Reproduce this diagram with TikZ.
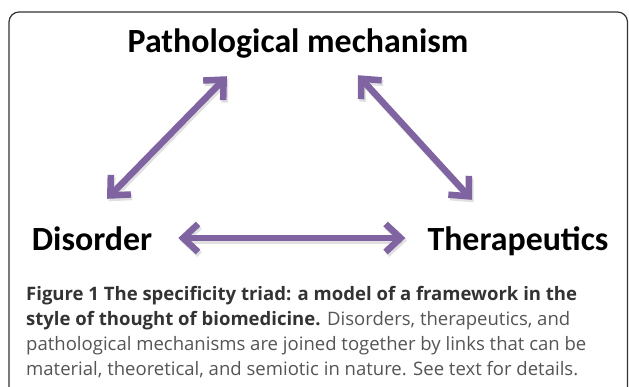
\documentclass[tikz,border=0pt]{standalone}
\usepackage{fontspec}
\setmainfont{Carlito}
\newfontfamily\capfont{Open Sans}
\usetikzlibrary{arrows.meta}
\definecolor{triadpurple}{HTML}{8064A2}
\definecolor{framegray}{HTML}{333333}
\definecolor{capdark}{HTML}{333333}
\definecolor{capgray}{HTML}{555555}

\begin{document}
\begin{tikzpicture}[x=1bp,y=-1bp]
        \tikzstyle{every node} = [inner sep=0pt]
        \tikzstyle{corner} = [font=\fontsize{34}{40}\selectfont\bfseries, text height=24bp, text depth=6bp]
        \tikzstyle{link} = [triadpurple, line width=6.5bp, line cap=round,
                {Straight Barb[length=15bp,width=28bp]}-{Straight Barb[length=15bp,width=28bp]}]
        \tikzstyle{linkshadow} = [link, black, opacity=0.12, transform canvas={shift={(1.5bp,-2.5bp)}}]
        \useasboundingbox (0,0) rectangle (629,386);
        \draw[framegray, line width=1.2bp, rounded corners=10bp]
                (9,400) -- (9,12) -- (627.5,12) -- (627.5,400);
        \node[corner, anchor=base] (pathmech) at (298,52) {Pathological mechanism};
        \node[corner, anchor=base] (disorder) at (92,250) {Disorder};
        \node[corner, anchor=base] (therapy) at (518,250) {Therapeutics};
        \foreach \style in {linkshadow, link} {
            \draw[\style] ([shift={(15,-27)}]disorder.north) -- ([shift={(-71,18)}]pathmech.south);
            \draw[\style] ([shift={(60,17)}]pathmech.south) -- ([shift={(-46,-26)}]therapy.north);
            \draw[\style] ([shift={(26,-12)}]disorder.base east) -- ([shift={(-22,-12)}]therapy.base west);
        }
        \node[anchor=north west, align=left, text=capgray,
                font=\capfont\fontsize{18.6}{25}\selectfont] (caption) at (26,286)
                {\textbf{\color{capdark}Figure 1 The specificity triad: a model of a framework in the}\\
                 \textbf{\color{capdark}style of thought of biomedicine.} Disorders, therapeutics, and\\
                 pathological mechanisms are joined together by links that can be\\
                 material, theoretical, and semiotic in nature. See text for details.};
\end{tikzpicture}
\end{document}
